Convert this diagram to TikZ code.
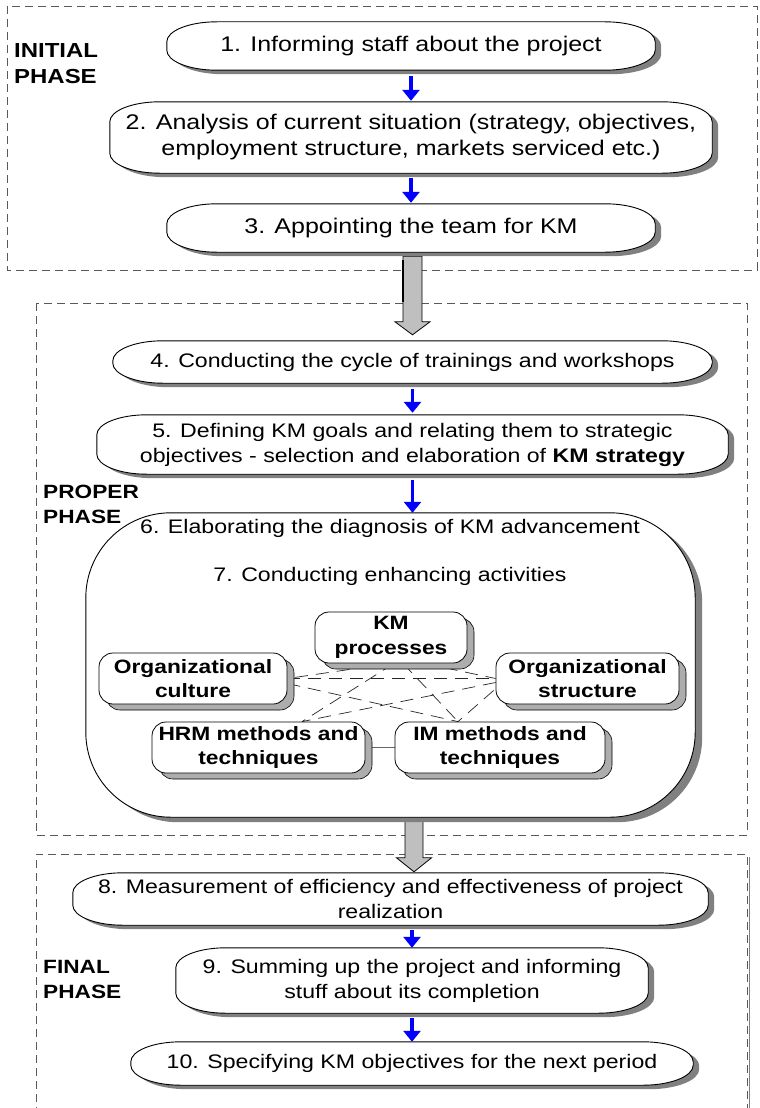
\documentclass[tikz,border=0pt]{standalone}
\usepackage{fontspec}
\setmainfont{Liberation Sans}[FakeStretch=1.18]
\usetikzlibrary{calc,shadows,arrows.meta}
\pgfdeclarelayer{frames}
\pgfdeclarelayer{blocks}
\pgfdeclarelayer{shapes}
\pgfdeclarelayer{links}
\pgfsetlayers{frames,blocks,shapes,links,main}
\newcommand\termpath[1]{([xshift=50pt]#1.north west) -- ([xshift=-50pt]#1.north east)
  arc[start angle=90,end angle=0,x radius=50pt,y radius=20pt]
  -- ([yshift=20pt]#1.south east)
  arc[start angle=0,end angle=-90,x radius=50pt,y radius=20pt]
  -- ([xshift=50pt]#1.south west)
  arc[start angle=270,end angle=180,x radius=50pt,y radius=20pt]
  -- ([yshift=-20pt]#1.north west)
  arc[start angle=180,end angle=90,x radius=50pt,y radius=20pt] -- cycle}
\tikzset{
  flow/.style={inner sep=0pt, align=center, font=\fontsize{19.6}{25}\selectfont},
  flowbig/.style={flow, font=\fontsize{21.2}{26}\selectfont},
  phaselabel/.style={anchor=west, align=left, inner sep=0pt, font=\bfseries\fontsize{20.3}{26.5}\selectfont},
  phaselabelsmall/.style={phaselabel, font=\bfseries\fontsize{19.2}{25}\selectfont},
  innerbox/.style={draw=black, line width=0.8pt, fill=white, rounded corners=14pt, align=center,
    inner sep=0pt, font=\bfseries\fontsize{19.3}{24.5}\selectfont,
    drop shadow={shadow xshift=7pt, shadow yshift=-6pt, fill=black!32, draw=black, line width=0.6pt, opacity=1}},
  boxline/.style={draw=black, line width=0.9pt},
  boxshadow/.style={fill=black!50},
  bluearr/.style={draw=blue, line width=3.5pt, -{Triangle[length=11pt,width=17pt]}},
  blockarr/.style={fill=black!25, draw=black, line width=0.8pt},
  phaseframe/.style={draw=black!65, line width=0.9pt, dash pattern=on 8pt off 5pt},
  linkline/.style={draw=black!85, line width=0.7pt, dash pattern=on 13pt off 8pt},
  solidlink/.style={draw=black!60, line width=0.9pt}
}
\begin{document}
\begin{tikzpicture}[x=1pt,y=-1pt]
\useasboundingbox (0,0) rectangle (760,1108);

% nodes of the flow
\node[flowbig, minimum width=488pt, minimum height=48pt] (b1) at (411,46) {1. Informing staff about the project};
\node[flowbig, minimum width=602pt, minimum height=71pt] (b2) at (411,137.5) {2. Analysis of current situation (strategy, objectives,\\employment structure, markets serviced etc.)};
\node[flowbig, minimum width=488pt, minimum height=48pt] (b3) at (411,228) {3. Appointing the team for KM};
\node[flow, minimum width=599pt, minimum height=42pt] (b4) at (412.5,362) {4. Conducting the cycle of trainings and workshops};
\node[flow, minimum width=631pt, minimum height=59pt] (b5) at (412.5,444.5) {5. Defining KM goals and relating them to strategic\\objectives - selection and elaboration of \textbf{KM strategy}};
\node[inner sep=0pt, minimum width=609pt, minimum height=304pt] (b6) at (390.5,665) {};
\node[flow] (t6) at (390,528) {6. Elaborating the diagnosis of KM advancement};
\node[flow] (t7) at (390,576) {7. Conducting enhancing activities};
\node[flow, minimum width=635pt, minimum height=52pt] (b8) at (390.5,899) {8. Measurement of efficiency and effectiveness of project\\realization};
\node[flow, minimum width=472pt, minimum height=65pt] (b9) at (412,980.5) {9. Summing up the project and informing\\stuff about its completion};
\node[flow, minimum width=562pt, minimum height=43pt] (b10) at (412,1063.5) {10. Specifying KM objectives for the next period};

% inner nodes
\node[innerbox, minimum width=152pt, minimum height=51pt] (km) at (391,637.5) {KM\\processes};
\node[innerbox, minimum width=188pt, minimum height=51pt] (oc) at (193,678.5) {Organizational\\culture};
\node[innerbox, minimum width=183pt, minimum height=51pt] (os) at (587.5,678.5) {Organizational\\structure};
\node[innerbox, minimum width=213pt, minimum height=51pt] (hrm) at (258.5,747.5) {HRM methods and\\techniques};
\node[innerbox, minimum width=210pt, minimum height=51pt] (im) at (500,747.5) {IM methods and\\techniques};

% phase labels
\node[phaselabel] (l1) at (14,63.5) {INITIAL\\PHASE};
\node[phaselabelsmall] (l2) at (43,504.5) {PROPER\\PHASE};
\node[phaselabelsmall] (l3) at (43,979.5) {FINAL\\PHASE};

% dashed phase frames
\begin{pgfonlayer}{frames}
\draw[phaseframe] (7,6) rectangle (757,270);
\draw[phaseframe] (36,303) rectangle (747,835);
\draw[phaseframe] (36,1115) -- (36,854) -- (747,854) -- (747,1115);
\draw[black!50, line width=1.1pt] (749.5,857) -- (749.5,1115);
\end{pgfonlayer}

% block arrows between phases
\begin{pgfonlayer}{blocks}
\draw[blockarr] let \p1=(b3.south), \p2=(b4.north) in
  (\x2-9.5pt,\y1-4pt) -- (\x2+9.5pt,\y1-4pt) -- (\x2+9.5pt,\y2+19pt) -- (\x2+17.5pt,\y2+19pt)
  -- (\x2,\y2+6pt) -- (\x2-17.5pt,\y2+19pt) -- (\x2-9.5pt,\y2+19pt) -- cycle;
\draw[black, line width=1.6pt] let \p1=(b3.south), \p2=(b4.north) in
  (\x2-9.5pt,\y1-8pt) -- (\x2-9.5pt,\y2+39pt);
\draw[blockarr] let \p1=(b6.south), \p2=(b8.north), \p3=(b9.north) in
  (\x3-7pt,\y1) -- (\x3+11pt,\y1) -- (\x3+11pt,\y2+15pt) -- (\x3+19.5pt,\y2+15pt)
  -- (\x3+2pt,\y2+1pt) -- (\x3-15.5pt,\y2+15pt) -- (\x3-7pt,\y2+15pt) -- cycle;
\end{pgfonlayer}

% box shapes
\begin{pgfonlayer}{shapes}
\foreach \n in {b1,b2,b3,b4,b5,b8,b9,b10} {
  \fill[boxshadow, transform canvas={xshift=6pt,yshift=-4pt}] \termpath{\n};
  \draw[boxline, fill=white] \termpath{\n};
}
\fill[boxshadow, rounded corners=85pt, transform canvas={xshift=7pt,yshift=-5pt}] (b6.north west) rectangle (b6.south east);
\draw[boxline, fill=white, rounded corners=85pt] (b6.north west) rectangle (b6.south east);
\end{pgfonlayer}

% links between the enhancing activities
\begin{pgfonlayer}{links}
\draw[linkline] (km.south) -- (oc.east);
\draw[linkline] ([xshift=3pt]km.south) -- ([xshift=43.5pt]hrm.north);
\draw[linkline] ([xshift=12pt]km.south) -- ([xshift=-42pt]im.north);
\draw[linkline] ([xshift=33pt]km.south) -- (os.west);
\draw[linkline] (oc.east) -- (os.west);
\draw[linkline] ([yshift=-5pt]oc.east) -- ([xshift=-42pt]im.north);
\draw[linkline] ([yshift=-4pt]os.west) -- ([xshift=43.5pt]hrm.north);
\draw[linkline] ([xshift=-2pt,yshift=-12pt]os.west) -- ([xshift=-42pt]im.north);
\draw[solidlink] (hrm.east) -- (im.west);
\end{pgfonlayer}

% blue arrows
\draw[bluearr, shorten <=6pt, shorten >=1pt] (b1.south) -- (b2.north);
\draw[bluearr, shorten <=5pt, shorten >=1pt] (b2.south) -- (b3.north);
\draw[bluearr, shorten <=6pt, shorten >=2pt] (b4.south) -- (b5.north);
\draw[bluearr, shorten <=6pt] (b5.south) -- (b5.south |- b6.north);
\draw[bluearr, shorten <=5pt] (b8.south -| b9.north) -- (b9.north);
\draw[bluearr, shorten <=5pt] (b9.south) -- (b10.north);
\end{tikzpicture}
\end{document}
